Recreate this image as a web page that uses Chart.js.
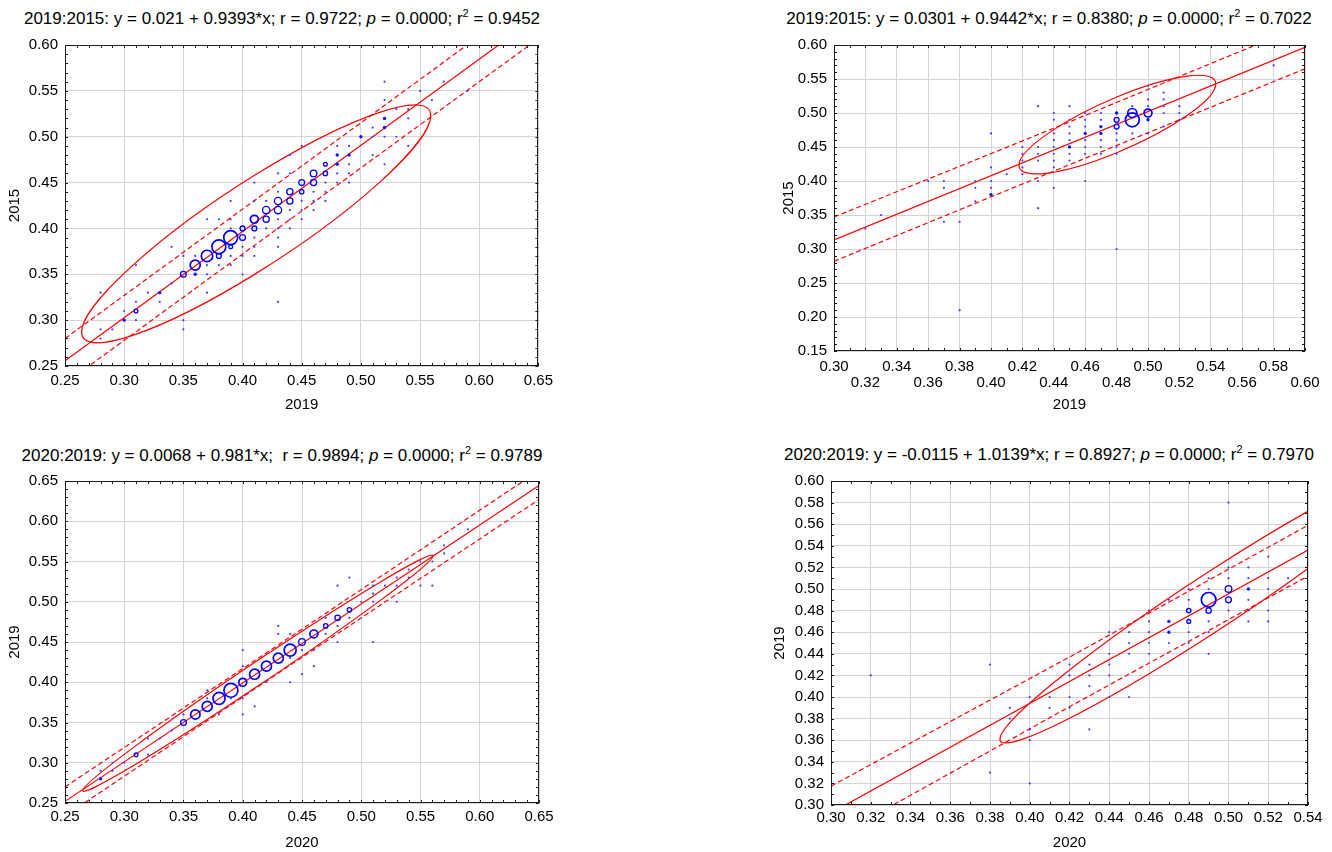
<!DOCTYPE html>
<html>
<head>
<meta charset="utf-8">
<script src="https://cdn.jsdelivr.net/npm/chart.js@4.4.1/dist/chart.umd.min.js"></script>
<style>
html, body { margin: 0; padding: 0; background: #fff; overflow: hidden; }
body { width: 1332px; height: 852px; position: relative; font-family: "Liberation Sans", Arial, sans-serif; }
canvas { position: absolute; }
.ttl { position: absolute; width: 640px; font-size: 17px; line-height: 20px; text-align: center; white-space: pre; color: #000; }
.ttl sup { font-size: 11px; line-height: 0; vertical-align: 7px; }
</style>
</head>
<body>
<div class="ttl" id="t0"></div>
<div class="ttl" id="t1"></div>
<div class="ttl" id="t2"></div>
<div class="ttl" id="t3"></div>
<canvas id="c0"></canvas>
<canvas id="c1"></canvas>
<canvas id="c2"></canvas>
<canvas id="c3"></canvas>
<script>
// regression stats for each panel
var pairNames = ['2019:2015', '2019:2015', '2020:2019', '2020:2019'];
var xNames = ['2019', '2019', '2020', '2020'];
var yNames = ['2015', '2015', '2019', '2019'];
var fitIntercept = [0.021, 0.0301, 0.0068, -0.0115];
var fitSlope = [0.9393, 0.9442, 0.981, 1.0139];
var fitR = [0.9722, 0.8380, 0.9894, 0.8927];
var fitP = [0.0000, 0.0000, 0.0000, 0.0000];
var fitR2 = [0.9452, 0.7022, 0.9789, 0.7970];
var titleGap = [' ', ' ', '  ', ' '];

// axis ranges and tick steps
var xRange = [[0.25, 0.65], [0.30, 0.60], [0.25, 0.65], [0.30, 0.54]];
var yRange = [[0.25, 0.60], [0.15, 0.60], [0.25, 0.65], [0.30, 0.60]];
var xStep = [0.05, 0.02, 0.05, 0.02];
var yStep = [0.05, 0.05, 0.05, 0.02];

// observations: [x, y, frequency]
var pts0 = [
  [0.31,0.31,3],[0.33,0.33,2],[0.35,0.35,7],[0.36,0.36,21],[0.37,0.37,27],[0.38,0.38,40],[0.39,0.39,40],
  [0.38,0.37,5],[0.39,0.38,3],[0.40,0.40,5],[0.40,0.39,7],[0.41,0.41,13],[0.41,0.40,5],[0.42,0.42,11],
  [0.42,0.41,8],[0.43,0.43,11],[0.43,0.42,11],[0.44,0.44,8],[0.44,0.43,8],[0.45,0.45,7],[0.45,0.44,4],
  [0.46,0.46,9],[0.46,0.45,8],[0.47,0.47,3],[0.47,0.46,4],[0.48,0.47,2],[0.48,0.48,2],[0.49,0.48,2],
  [0.50,0.50,2],[0.52,0.52,2],[0.52,0.51,2],[0.36,0.35,2],[0.30,0.30,2],
  [0.28,0.33,1],[0.28,0.29,1],[0.28,0.28,1],[0.29,0.29,1],[0.30,0.31,1],[0.31,0.36,1],[0.31,0.32,1],
  [0.31,0.30,1],[0.32,0.33,1],[0.33,0.32,1],[0.34,0.38,1],[0.34,0.34,1],[0.35,0.37,1],[0.35,0.30,1],
  [0.35,0.29,1],[0.36,0.37,1],[0.37,0.41,1],[0.37,0.36,1],[0.37,0.35,1],[0.37,0.33,1],[0.38,0.41,1],
  [0.38,0.36,1],[0.39,0.43,1],[0.39,0.41,1],[0.39,0.40,1],[0.39,0.37,1],[0.39,0.36,1],[0.40,0.38,1],
  [0.40,0.37,1],[0.40,0.35,1],[0.41,0.45,1],[0.41,0.43,1],[0.41,0.39,1],[0.41,0.38,1],[0.41,0.37,1],
  [0.42,0.43,1],[0.42,0.40,1],[0.43,0.46,1],[0.43,0.44,1],[0.43,0.41,1],[0.43,0.40,1],[0.43,0.39,1],
  [0.43,0.38,1],[0.43,0.32,1],[0.44,0.48,1],[0.44,0.46,1],[0.44,0.42,1],[0.44,0.41,1],[0.44,0.40,1],
  [0.45,0.49,1],[0.45,0.43,1],[0.45,0.42,1],[0.45,0.41,1],[0.46,0.44,1],[0.46,0.43,1],[0.46,0.42,1],
  [0.47,0.45,1],[0.47,0.44,1],[0.47,0.43,1],[0.48,0.49,1],[0.48,0.46,1],[0.48,0.45,1],[0.49,0.49,1],
  [0.49,0.47,1],[0.49,0.46,1],[0.49,0.45,1],[0.51,0.51,1],[0.51,0.50,1],[0.51,0.48,1],[0.52,0.56,1],
  [0.52,0.54,1],[0.52,0.50,1],[0.52,0.47,1],[0.53,0.53,1],[0.53,0.50,1],[0.54,0.53,1],[0.54,0.52,1],
  [0.54,0.49,1],[0.55,0.55,1],[0.56,0.54,1],[0.57,0.56,1],[0.59,0.55,1]
];
var pts1 = [
  [0.48,0.49,5],[0.48,0.48,5],[0.49,0.50,17],[0.49,0.49,40],[0.50,0.50,13],
  [0.45,0.45,2],[0.46,0.47,2],[0.47,0.48,2],[0.47,0.47,2],[0.48,0.50,2],[0.50,0.49,2],[0.40,0.38,2],
  [0.32,0.33,1],[0.33,0.35,1],[0.36,0.40,1],[0.37,0.40,1],[0.37,0.39,1],[0.37,0.34,1],[0.38,0.34,1],
  [0.38,0.21,1],[0.39,0.40,1],[0.39,0.39,1],[0.39,0.37,1],[0.40,0.47,1],[0.40,0.42,1],[0.40,0.40,1],
  [0.40,0.39,1],[0.41,0.41,1],[0.42,0.45,1],[0.42,0.44,1],[0.42,0.43,1],[0.42,0.42,1],[0.42,0.41,1],
  [0.43,0.51,1],[0.43,0.45,1],[0.43,0.44,1],[0.43,0.43,1],[0.43,0.40,1],[0.43,0.36,1],[0.44,0.50,1],
  [0.44,0.49,1],[0.44,0.47,1],[0.44,0.46,1],[0.44,0.45,1],[0.44,0.44,1],[0.44,0.43,1],[0.44,0.42,1],
  [0.44,0.39,1],[0.45,0.51,1],[0.45,0.49,1],[0.45,0.48,1],[0.45,0.47,1],[0.45,0.46,1],[0.45,0.44,1],
  [0.45,0.43,1],[0.46,0.50,1],[0.46,0.49,1],[0.46,0.48,1],[0.46,0.46,1],[0.46,0.45,1],[0.46,0.44,1],
  [0.46,0.40,1],[0.47,0.50,1],[0.47,0.49,1],[0.47,0.46,1],[0.47,0.45,1],[0.47,0.44,1],[0.48,0.47,1],
  [0.48,0.46,1],[0.48,0.45,1],[0.48,0.44,1],[0.48,0.30,1],[0.49,0.51,1],[0.49,0.47,1],[0.50,0.54,1],
  [0.50,0.52,1],[0.50,0.51,1],[0.50,0.47,1],[0.51,0.53,1],[0.51,0.52,1],[0.51,0.51,1],[0.51,0.50,1],
  [0.51,0.48,1],[0.52,0.51,1],[0.52,0.50,1],[0.52,0.49,1],[0.58,0.57,1]
];
var pts2 = [
  [0.28,0.28,2],[0.31,0.31,3],[0.35,0.35,7],[0.36,0.36,18],[0.37,0.37,21],[0.38,0.38,30],[0.39,0.39,40],
  [0.40,0.40,13],[0.41,0.41,21],[0.42,0.42,21],[0.43,0.43,21],[0.44,0.44,30],[0.45,0.45,9],[0.46,0.46,13],
  [0.47,0.47,4],[0.48,0.48,6],[0.49,0.49,4],
  [0.28,0.29,1],[0.29,0.29,1],[0.29,0.30,1],[0.30,0.30,1],[0.32,0.33,1],[0.32,0.31,1],[0.33,0.33,1],
  [0.34,0.34,1],[0.35,0.36,1],[0.37,0.39,1],[0.37,0.38,1],[0.38,0.36,1],[0.39,0.38,1],[0.40,0.44,1],
  [0.40,0.42,1],[0.40,0.38,1],[0.40,0.36,1],[0.41,0.37,1],[0.42,0.40,1],[0.43,0.47,1],[0.43,0.46,1],
  [0.44,0.46,1],[0.44,0.43,1],[0.44,0.40,1],[0.45,0.44,1],[0.45,0.41,1],[0.46,0.44,1],[0.46,0.42,1],
  [0.47,0.48,1],[0.47,0.46,1],[0.48,0.52,1],[0.48,0.47,1],[0.48,0.45,1],[0.49,0.53,1],[0.49,0.48,1],
  [0.50,0.50,1],[0.51,0.52,1],[0.51,0.51,1],[0.51,0.50,1],[0.51,0.45,1],[0.52,0.52,1],[0.53,0.53,1],
  [0.53,0.52,1],[0.53,0.50,1],[0.54,0.54,1],[0.54,0.53,1],[0.55,0.55,1],[0.55,0.52,1],[0.56,0.55,1],
  [0.56,0.52,1],[0.57,0.57,1],[0.57,0.56,1],[0.59,0.59,1]
];
var pts3 = [
  [0.49,0.49,44],[0.49,0.48,6],[0.48,0.48,4],[0.48,0.47,3],[0.50,0.50,9],[0.50,0.49,7],
  [0.47,0.47,2],[0.47,0.46,2],[0.51,0.50,2],
  [0.32,0.42,1],[0.38,0.43,1],[0.38,0.33,1],[0.39,0.39,1],[0.39,0.38,1],[0.40,0.40,1],[0.40,0.37,1],
  [0.40,0.36,1],[0.40,0.32,1],[0.41,0.40,1],[0.41,0.39,1],[0.42,0.43,1],[0.42,0.42,1],[0.42,0.40,1],
  [0.42,0.39,1],[0.43,0.43,1],[0.43,0.42,1],[0.43,0.41,1],[0.43,0.37,1],[0.44,0.46,1],[0.44,0.44,1],
  [0.44,0.43,1],[0.44,0.42,1],[0.44,0.40,1],[0.45,0.46,1],[0.45,0.45,1],[0.45,0.44,1],[0.45,0.40,1],
  [0.46,0.48,1],[0.46,0.47,1],[0.46,0.46,1],[0.46,0.45,1],[0.46,0.44,1],[0.47,0.49,1],[0.47,0.45,1],
  [0.48,0.50,1],[0.48,0.49,1],[0.48,0.46,1],[0.48,0.45,1],[0.49,0.51,1],[0.49,0.50,1],[0.49,0.47,1],
  [0.49,0.46,1],[0.49,0.44,1],[0.50,0.58,1],[0.50,0.52,1],[0.50,0.51,1],[0.50,0.48,1],[0.51,0.52,1],
  [0.51,0.51,1],[0.51,0.49,1],[0.51,0.48,1],[0.51,0.47,1],[0.52,0.53,1],[0.52,0.51,1],[0.52,0.50,1],
  [0.52,0.48,1],[0.52,0.47,1],[0.53,0.51,1]
];
var points = [pts0, pts1, pts2, pts3];

// 95% bands around the fit, read at three x positions
var bandX = [[0.25, 0.45, 0.65], [0.30, 0.45, 0.60], [0.25, 0.45, 0.65], [0.30, 0.42, 0.54]];
var bandUpper = [[0.280, 0.468, 0.657], [0.347, 0.487, 0.630], [0.270, 0.466, 0.663], [0.3175, 0.437, 0.559]];
var bandLower = [[0.231, 0.419, 0.607], [0.282, 0.424, 0.565], [0.234, 0.431, 0.627], [0.268, 0.391, 0.512]];

// normal-range ellipse: centre, rightmost tangent offset, vertical half-chord at centre
var ellCenter = [[0.4115, 0.405], [0.4805, 0.483], [0.4127, 0.4112], [0.49, 0.486]];
var ellU = [[0.1475, 0.118], [0.0627, 0.0598], [0.1478, 0.1458], [0.105, 0.125]];
var ellV = [[0, 0.054], [0, 0.041], [0, 0.016], [0, 0.030]];

var FONT = '"Liberation Sans", Arial, sans-serif';
var RED = '#ff0000';
var BLUE = '#0000ff';

// canvas box (cl,ct,cw,ch) and plot-area edges (pl,pt,pr,pb) in page pixels
var boxes = [
  {cl: 0,   ct: 30,  cw: 560, ch: 395, pl: 65,  pt: 38,  pr: 539,  pb: 366, tx: 282,  ty: 19,  tickPad: 7, xTitlePad: 11, yTitlePad: 6},
  {cl: 760, ct: 30,  cw: 572, ch: 395, pl: 834, pt: 38,  pr: 1305, pb: 351, tx: 1049, ty: 19,  tickPad: 8, xTitlePad: 11, yTitlePad: 20},
  {cl: 0,   ct: 466, cw: 560, ch: 386, pl: 65,  pt: 475, pr: 539,  pb: 803, tx: 282,  ty: 456, tickPad: 6, xTitlePad: 0,  yTitlePad: 6},
  {cl: 760, ct: 466, cw: 572, ch: 386, pl: 831, pt: 474, pr: 1308, pb: 805, tx: 1049, ty: 455, tickPad: 5, xTitlePad: 0,  yTitlePad: 11}
];

function radiusFor(n) {
  if (n <= 1) return 1.1;
  if (n === 2) return 1.7;
  return 1.1 * Math.sqrt(n);
}

// red ellipse drawn through the chart's own scales
var ellipsePlugin = {
  id: 'ellipse',
  beforeDatasetsDraw: function (chart, args, opts) {
    var xs = chart.scales.x, ys = chart.scales.y, a = chart.chartArea, ctx = chart.ctx;
    var c = opts.center, u = opts.u, v = opts.v;
    var cx = xs.getPixelForValue(c[0]), cy = ys.getPixelForValue(c[1]);
    var ux = xs.getPixelForValue(c[0] + u[0]) - cx, uy = ys.getPixelForValue(c[1] + u[1]) - cy;
    var vx = xs.getPixelForValue(c[0] + v[0]) - cx, vy = ys.getPixelForValue(c[1] + v[1]) - cy;
    ctx.save();
    ctx.beginPath();
    ctx.rect(a.left, a.top, a.width, a.height);
    ctx.clip();
    ctx.beginPath();
    ctx.save();
    ctx.transform(ux, uy, vx, vy, cx, cy);
    ctx.arc(0, 0, 1, 0, Math.PI * 2);
    ctx.restore();
    ctx.strokeStyle = RED;
    ctx.lineWidth = 1.2;
    ctx.stroke();
    ctx.restore();
  }
};

// black frame with small inward ticks on all four sides
var framePlugin = {
  id: 'frame',
  afterDatasetsDraw: function (chart, args, opts) {
    var ctx = chart.ctx, a = chart.chartArea;
    ctx.save();
    ctx.strokeStyle = '#1a1a1a';
    ctx.lineWidth = 1;
    ctx.beginPath();
    [['x', opts.xMinor], ['y', opts.yMinor]].forEach(function (d) {
      var s = chart.scales[d[0]];
      var n = Math.round((s.max - s.min) / d[1]);
      for (var i = 0; i <= n; i++) {
        var p = Math.round(s.getPixelForValue(s.min + i * d[1])) + 0.5;
        if (d[0] === 'x') {
          ctx.moveTo(p, a.top); ctx.lineTo(p, a.top + 3);
          ctx.moveTo(p, a.bottom); ctx.lineTo(p, a.bottom - 3);
        } else {
          ctx.moveTo(a.left, p); ctx.lineTo(a.left + 3, p);
          ctx.moveTo(a.right, p); ctx.lineTo(a.right - 3, p);
        }
      }
    });
    ctx.stroke();
    ctx.strokeRect(Math.round(a.left) + 0.5, Math.round(a.top) + 0.5, Math.round(a.width) - 1, Math.round(a.height) - 1);
    ctx.restore();
  }
};

function fmt(v) { return (Math.round(v * 100) / 100).toFixed(2); }

function titleHtml(i) {
  return pairNames[i] + ': y = ' + fitIntercept[i] + ' + ' + fitSlope[i] + '*x;' + titleGap[i] + 'r = ' + fitR[i].toFixed(4) +
    '; <i>p</i> = ' + fitP[i].toFixed(4) + '; r<sup>2</sup> = ' + fitR2[i].toFixed(4);
}

function buildPanel(i) {
  var b = boxes[i];
  var t = document.getElementById('t' + i);
  t.innerHTML = titleHtml(i);
  t.style.left = (b.tx - 320) + 'px';
  t.style.top = (b.ty - 10) + 'px';

  var cv = document.getElementById('c' + i);
  cv.width = b.cw; cv.height = b.ch;
  cv.style.left = b.cl + 'px'; cv.style.top = b.ct + 'px';
  cv.style.width = b.cw + 'px'; cv.style.height = b.ch + 'px';

  var a = fitIntercept[i], k = fitSlope[i];
  var x0 = xRange[i][0], x1 = xRange[i][1];
  var stagger = i === 1;

  var ds = [
    {
      data: points[i].map(function (p) { return {x: p[0], y: p[1], n: p[2]}; }),
      showLine: false,
      pointStyle: 'circle',
      pointRadius: function (c) { return radiusFor(c.raw.n); },
      pointHoverRadius: function (c) { return radiusFor(c.raw.n); },
      pointBackgroundColor: function (c) { return c.raw.n === 1 ? '#4040ff' : (c.raw.n === 2 ? '#1010ff' : 'rgba(0,0,0,0)'); },
      pointBorderColor: BLUE,
      pointBorderWidth: function (c) { return c.raw.n <= 2 ? 0 : (c.raw.n >= 13 ? 1.7 : 1.3); }
    },
    {
      data: [{x: x0, y: a + k * x0}, {x: x1, y: a + k * x1}],
      showLine: true, borderColor: RED, borderWidth: 1.2, pointRadius: 0
    },
    {
      data: bandX[i].map(function (x, j) { return {x: x, y: bandUpper[i][j]}; }),
      showLine: true, borderColor: RED, borderWidth: 1.2, borderDash: [5, 3], pointRadius: 0
    },
    {
      data: bandX[i].map(function (x, j) { return {x: x, y: bandLower[i][j]}; }),
      showLine: true, borderColor: RED, borderWidth: 1.2, borderDash: [5, 3], pointRadius: 0
    }
  ];

  var tickFont = {size: 15, family: FONT, lineHeight: 1.07};
  var titleFont = {size: 15, family: FONT};

  new Chart(cv, {
    type: 'scatter',
    data: {datasets: ds},
    plugins: [ellipsePlugin, framePlugin],
    options: {
      responsive: false,
      animation: false,
      devicePixelRatio: 1,
      layout: {padding: {left: 0, top: b.pt - b.ct, right: b.cl + b.cw - b.pr, bottom: 0}},
      plugins: {
        legend: {display: false},
        tooltip: {enabled: false},
        ellipse: {center: ellCenter[i], u: ellU[i], v: ellV[i]},
        frame: {xMinor: 0.01, yMinor: 0.01}
      },
      scales: {
        x: {
          type: 'linear', min: x0, max: x1,
          ticks: {
            stepSize: xStep[i], autoSkip: false, maxRotation: 0, minRotation: 0,
            padding: b.tickPad, color: '#000', font: tickFont,
            callback: function (v, idx) {
              if (stagger && idx % 2 === 1) return ['', fmt(v)];
              return fmt(v);
            }
          },
          grid: {color: '#d4d4d4', lineWidth: 1, drawTicks: false},
          border: {display: false},
          title: {display: true, text: xNames[i], color: '#000', font: titleFont, padding: {top: 0, bottom: b.xTitlePad}},
          afterFit: function (s) { s.height = b.ct + b.ch - b.pb; }
        },
        y: {
          type: 'linear', min: yRange[i][0], max: yRange[i][1],
          ticks: {
            stepSize: yStep[i], autoSkip: false,
            padding: 7, color: '#000', font: tickFont,
            callback: function (v) { return fmt(v); }
          },
          grid: {color: '#d4d4d4', lineWidth: 1, drawTicks: false},
          border: {display: false},
          title: {display: true, text: yNames[i], color: '#000', font: titleFont, padding: {top: b.yTitlePad, bottom: 0}},
          afterFit: function (s) { s.width = b.pl - b.cl; }
        }
      }
    }
  });
}

for (var i = 0; i < 4; i++) buildPanel(i);
</script>
</body>
</html>
